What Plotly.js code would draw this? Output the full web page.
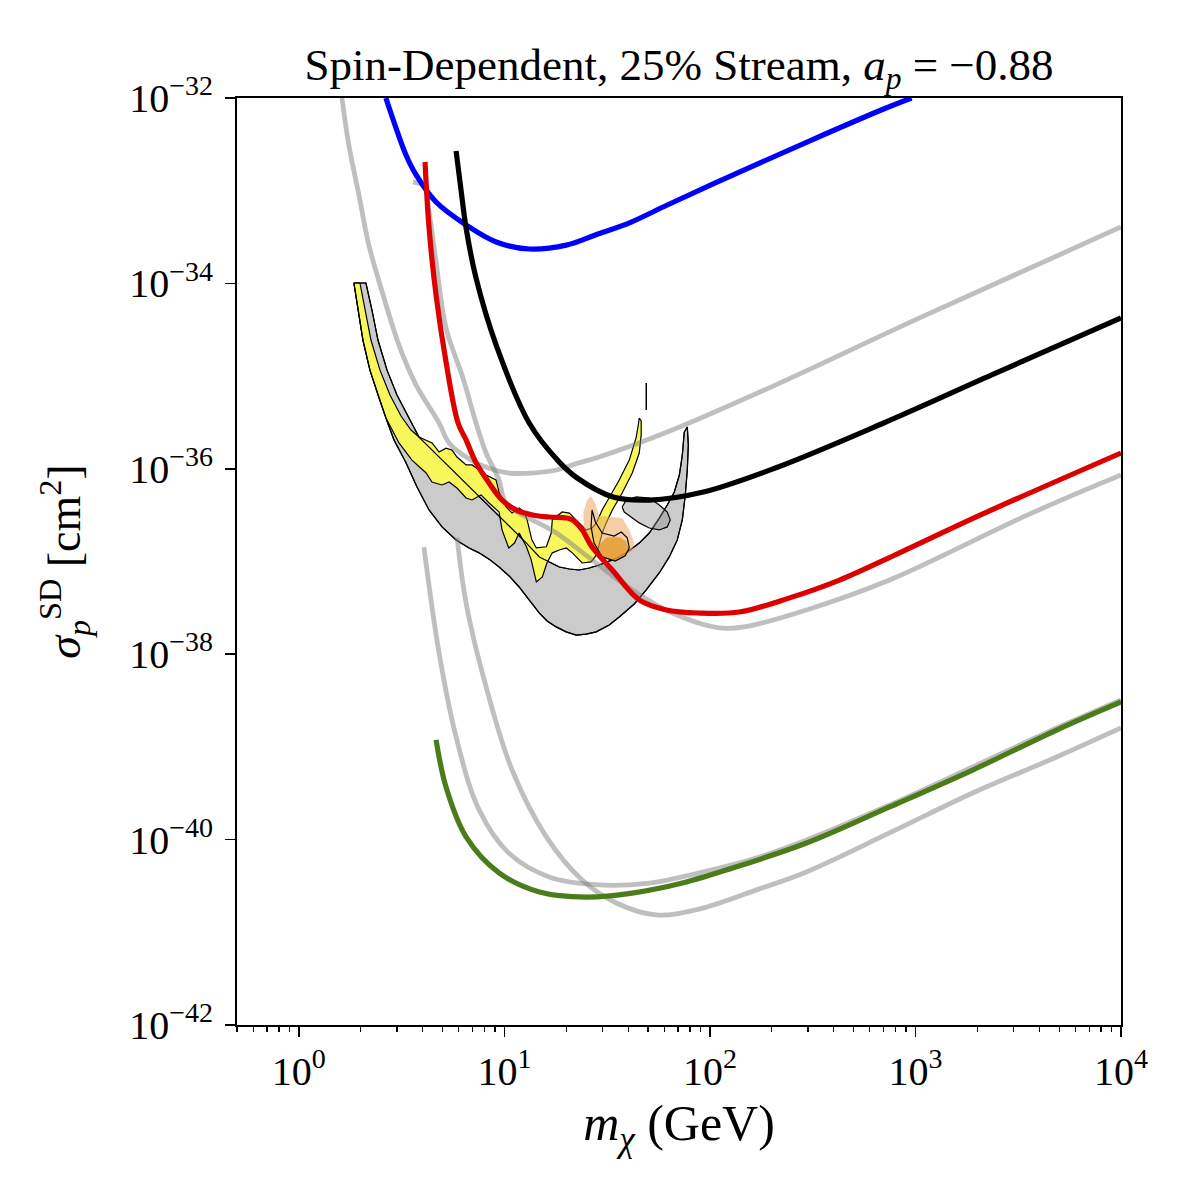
<!DOCTYPE html>
<html>
<head>
<meta charset="utf-8">
<script src="https://cdn.plot.ly/plotly-3.0.1.min.js"></script>
<style>
  html, body { margin: 0; padding: 0; background: #ffffff; }
  #chart { width: 1200px; height: 1200px; }
</style>
</head>
<body>
<div id="chart"></div>
<script>
// ---- Exclusion limits: WIMP mass (GeV) vs spin-dependent proton cross section (cm^2) ----

// Blue limit
const blueMass  = [2.65, 2.97, 3.32, 3.72, 4.65, 6.51, 9.12, 13.2, 20.0, 27.7, 41.4, 62.0, 139, 312, 700, 957];
const blueSigma = [1.0e-32, 4.74e-33, 2.43e-33, 1.48e-33, 7.55e-34, 4.27e-34, 2.80e-34, 2.35e-34, 2.59e-34, 3.33e-34, 4.59e-34, 7.01e-34, 1.59e-33, 3.52e-33, 7.61e-33, 1.0e-32];

// Black limit
const blackMass  = [5.82, 6.15, 6.51, 7.28, 9.12, 13.2, 18.5, 22.6, 33.8, 50.7, 92.9, 208, 700, 2350, 10000];
const blackSigma = [2.68e-33, 1.02e-33, 3.96e-34, 1.14e-34, 2.16e-35, 3.12e-36, 1.18e-36, 7.96e-37, 4.97e-37, 4.60e-37, 5.62e-37, 1.02e-36, 3.12e-36, 1.03e-35, 4.24e-35];

// Red limit
const redMass  = [4.11, 4.30, 4.65, 5.20, 5.95, 6.51, 7.28, 8.42, 9.75, 11.4, 13.7, 16.5, 20.0, 21.4, 23.9, 26.7, 33.5, 45.3, 61.3, 88.7, 139, 244, 427, 837, 2075, 10000];
const redSigma = [2.04e-33, 3.96e-34, 7.5e-35, 1.42e-35, 3.12e-36, 2.05e-36, 1.16e-36, 7.03e-37, 4.60e-37, 3.6e-37, 3.18e-37, 3.02e-37, 2.95e-37, 2.81e-37, 2.19e-37, 1.43e-37, 8.09e-38, 3.85e-38, 3.00e-38, 2.78e-38, 2.85e-38, 4.05e-38, 6.31e-38, 1.24e-37, 3.18e-37, 1.48e-36];

// Green limit
const greenMass  = [4.65, 5.20, 6.51, 9.42, 14.8, 25.0, 41.9, 73.4, 129, 295, 748, 1897, 4864, 10000];
const greenSigma = [1.19e-39, 3.69e-40, 1.07e-40, 4.37e-41, 2.72e-41, 2.40e-41, 2.65e-41, 3.40e-41, 4.94e-41, 9.18e-41, 2.25e-40, 5.63e-40, 1.52e-39, 3.05e-39];

// Grey comparison limits
const greyAMass  = [1.62, 1.75, 1.96, 2.19, 2.57, 3.07, 3.72, 4.81, 5.38, 6.51, 8.15, 10.5, 13.6, 17.9, 23.1, 28.9, 62.0, 208, 1047, 10000];
const greyASigma = [1.0e-32, 3.11e-33, 9.0e-34, 2.59e-34, 7.5e-35, 2.16e-35, 8.0e-36, 3.12e-36, 1.90e-36, 1.34e-36, 1.04e-36, 9.0e-37, 9.0e-37, 9.7e-37, 1.16e-36, 1.34e-36, 2.49e-36, 8.0e-36, 4.24e-35, 4.06e-34];

const greyBMass  = [3.59, 4.06, 4.30, 4.65, 5.20, 6.29, 7.28, 8.15, 9.42, 10.2, 17.9, 26.7, 41.9, 65.6, 111, 147, 295, 748, 3516, 10000];
const greyBSigma = [1.24e-33, 1.12e-33, 5.89e-34, 1.70e-34, 3.30e-35, 9.5e-36, 3.12e-36, 1.48e-36, 7.57e-37, 4.28e-37, 2.03e-37, 1.04e-37, 4.93e-38, 2.78e-38, 1.92e-38, 1.97e-38, 3.00e-38, 6.31e-38, 3.18e-37, 8.57e-37];

const greyCMass  = [4.06, 4.81, 5.82, 7.53, 10.5, 16.5, 28.9, 50.7, 88.7, 174, 295, 748, 1897, 4864, 10000];
const greyCSigma = [1.43e-37, 1.03e-38, 1.28e-39, 2.09e-40, 7.16e-41, 3.95e-41, 3.24e-41, 3.40e-41, 4.37e-41, 6.49e-41, 9.9e-41, 2.36e-40, 6.07e-40, 1.60e-39, 3.21e-39];

const greyDMass  = [5.89, 6.51, 8.15, 10.9, 16.0, 23.9, 35.0, 54.8, 88.7, 174, 295, 748, 1897, 4864, 10000];
const greyDSigma = [1.80e-37, 3.56e-38, 4.43e-39, 5.63e-40, 1.07e-40, 3.66e-41, 2.07e-41, 1.54e-41, 1.78e-41, 2.94e-41, 4.48e-41, 1.18e-40, 3.18e-40, 7.78e-40, 1.60e-39];

// ---- Signal regions (closed contours) ----
const greyRegionMass  = [1.853, 1.939, 2.050, 2.217, 2.453, 2.653, 2.902, 3.320, 3.756, 4.298, 4.972, 5.818, 6.730, 7.528, 8.422, 9.423, 10.54, 11.79, 13.19, 14.76, 16.14, 17.86, 19.97, 22.35, 25.00, 27.97, 32.36, 36.21, 42.83, 48.99, 56.68, 63.42, 69.37, 73.37, 75.87, 77.6, 78.5, 77.6,
                         75.0, 73.4, 71.0, 67.1, 62.0, 56.7, 50.7, 45.3, 39.2, 33.5, 28.9, 25.9, 23.1, 20.7, 18.5, 16.5, 14.8, 12.8, 9.11, 6.51, 4.81, 3.84, 3.434, 3.002, 2.685, 2.426, 2.268, 2.120, 1.853];
const greyRegionSigma = [1.01e-34, 5.16e-35, 2.45e-35, 1.16e-35, 5.81e-36, 3.53e-36, 2.05e-36, 1.16e-36, 6.37e-37, 3.60e-37, 2.36e-37, 1.71e-37, 1.40e-37, 1.24e-37, 1.06e-37, 8.73e-38, 6.98e-38, 5.31e-38, 3.85e-38, 2.79e-38, 2.28e-38, 1.97e-38, 1.74e-38, 1.61e-38, 1.65e-38, 1.74e-38, 2.07e-38, 2.52e-38, 3.48e-38, 4.93e-38, 7.52e-38, 1.12e-37, 1.71e-37, 2.81e-37, 5.22e-37, 9.70e-37, 1.81e-36, 2.82e-36,
                         2.49e-36, 1.41e-36, 8.57e-37, 5.62e-37, 4.07e-37, 2.94e-37, 2.03e-37, 1.58e-37, 1.24e-37, 1.04e-37, 9.17e-38, 8.51e-38, 8.10e-38, 8.30e-38, 8.73e-38, 9.89e-38, 1.12e-37, 1.58e-37, 3.33e-37, 6.86e-37, 1.34e-36, 2.20e-36, 3.53e-36, 6.25e-36, 1.16e-35, 2.45e-35, 5.16e-35, 1.01e-34, 1.01e-34];

const yellowRegionMass  = [1.982, 2.097, 2.242, 2.481, 2.775, 3.140, 3.513, 3.84, 4.444, 4.81, 5.20, 5.56, 5.88, 6.51, 6.96, 7.53, 8.14, 9.11, 9.42, 10.2, 10.9, 11.8, 12.5, 12.9, 13.6, 14.3, 16.0, 16.9, 17.1, 19.1, 20.7, 22.3, 25.0, 26.7,
                           28.0, 29.9, 32.4, 36.2, 40.5, 43.8, 44.8, 45.3, 46.3, 46.3, 45.3, 41.9, 37.4, 33.5, 31.3, 29.9, 28.9, 28.0, 26.4, 23.9, 21.4, 20.0, 18.5, 17.1, 16.1, 15.3, 14.3, 13.5, 12.8, 11.8, 11.2, 10.5, 9.74, 9.42, 8.42, 7.70, 6.96, 6.51, 5.88, 5.38, 4.97, 4.44, 4.16, 3.55, 3.07, 2.806, 2.653, 2.453, 2.217, 2.050, 1.939, 1.853, 1.982];
const yellowRegionSigma = [1.01e-34, 5.16e-35, 2.45e-35, 1.16e-35, 6.25e-36, 3.71e-36, 2.62e-36, 2.20e-36, 1.90e-36, 1.52e-36, 1.67e-36, 1.59e-36, 1.34e-36, 1.10e-36, 1.10e-36, 9.70e-37, 8.57e-37, 7.57e-37, 5.62e-37, 3.87e-37, 3.33e-37, 3.78e-37, 3.42e-37, 2.81e-37, 1.71e-37, 1.40e-37, 1.44e-37, 2.03e-37, 2.81e-37, 3.42e-37, 3.33e-37, 2.81e-37, 2.19e-37, 2.30e-37,
                           2.61e-37, 3.60e-37, 4.97e-37, 7.57e-37, 1.24e-36, 2.20e-36, 2.97e-36, 3.53e-36, 3.28e-36, 2.32e-36, 1.48e-36, 9.02e-37, 5.48e-37, 3.60e-37, 2.61e-37, 2.03e-37, 1.51e-37, 1.17e-37, 9.89e-38, 9.64e-38, 1.24e-37, 1.40e-37, 1.33e-37, 1.24e-37, 9.64e-38, 6.81e-38, 6.01e-38, 1.04e-37, 1.44e-37, 2.03e-37, 1.58e-37, 1.40e-37, 2.19e-37, 3.42e-37, 4.28e-37, 5.22e-37, 4.61e-37, 4.84e-37, 6.21e-37, 7.21e-37, 6.69e-37, 7.21e-37, 9.02e-37, 1.24e-36, 1.90e-36, 2.75e-36, 3.53e-36, 5.81e-36, 1.16e-35, 2.45e-35, 5.16e-35, 1.01e-34, 1.01e-34];

const smallGreyMass  = [37.4, 39.2, 43.8, 50.7, 56.7, 62.0, 64.1, 62.0, 56.7, 50.7, 45.3, 41.4, 38.3, 37.4];
const smallGreySigma = [3.87e-37, 4.61e-37, 4.97e-37, 4.84e-37, 4.07e-37, 3.42e-37, 2.81e-37, 2.36e-37, 2.19e-37, 2.30e-37, 2.61e-37, 3.02e-37, 3.42e-37, 3.87e-37];

const peachMass  = [24.2, 25.3, 26.4, 27.7, 28.9, 33.1, 37.4, 40.5, 42.8, 41.9, 38.3, 33.5, 29.9, 26.4, 24.4, 24.2];
const peachSigma = [3.42e-37, 4.61e-37, 5.09e-37, 4.18e-37, 3.10e-37, 3.02e-37, 2.94e-37, 2.19e-37, 1.58e-37, 1.30e-37, 1.17e-37, 1.04e-37, 1.09e-37, 1.47e-37, 2.19e-37, 3.42e-37];

// darker core of the orange contour, and its outline
const orangeMass  = [28.9, 31.3, 34.2, 37.0, 39.0, 40.3, 39.0, 34.6, 30.3, 28.9, 28.9];
const orangeSigma = [1.51e-37, 1.80e-37, 1.84e-37, 1.80e-37, 1.64e-37, 1.40e-37, 1.15e-37, 1.01e-37, 1.10e-37, 1.30e-37, 1.51e-37];
const orangeEdgeMass  = [26.7, 27.7, 29.9, 34.2, 37.0, 39.6, 40.5, 38.7, 34.6, 29.9, 27.3, 26.4, 26.7];
const orangeEdgeSigma = [3.60e-37, 2.67e-37, 2.03e-37, 1.88e-37, 2.08e-37, 1.80e-37, 1.40e-37, 1.15e-37, 1.01e-37, 1.12e-37, 1.58e-37, 2.36e-37, 3.60e-37];

// short isolated contour segment
const dashMass  = [49.0, 49.0];
const dashSigma = [4.31e-36, 8.43e-36];

// ---- Axis ticks ----
const xTickVals = [1, 10, 100, 1000, 10000];
const xTickText = ['10<sup>0</sup>', '10<sup>1</sup>', '10<sup>2</sup>', '10<sup>3</sup>', '10<sup>4</sup>'];
const yTickVals = [1e-42, 1e-40, 1e-38, 1e-36, 1e-34, 1e-32];
const yTickText = ['10<sup>−42</sup>', '10<sup>−40</sup>', '10<sup>−38</sup>', '10<sup>−36</sup>', '10<sup>−34</sup>', '10<sup>−32</sup>'];

const xMinorVals = [];
[0.1, 1, 10, 100, 1000].forEach(function (dec) {
  for (let k = 2; k <= 9; k++) {
    const v = k * dec;
    if (v >= 0.5 && v < 10000) xMinorVals.push(v);
  }
});

// ---- Styles ----
const GREY_LINE = 'rgba(128,128,128,0.5)';
const LW = 5.2;
const GREY_LW = 4.8;

function curve(x, y, color, width) {
  return { x: x, y: y, type: 'scatter', mode: 'lines', line: { color: color, width: width, shape: 'spline', smoothing: 1 }, hoverinfo: 'skip' };
}
function region(x, y, fill, edge, edgeWidth) {
  return { x: x, y: y, type: 'scatter', mode: 'lines', fill: 'toself', fillcolor: fill, line: { color: edge, width: edgeWidth }, hoverinfo: 'skip' };
}
function outline(x, y, width) {
  return { x: x, y: y, type: 'scatter', mode: 'lines', line: { color: '#000000', width: width }, hoverinfo: 'skip' };
}

const traces = [
  region(greyRegionMass, greyRegionSigma, '#cbcbcb', '#000000', 1.2),
  region(yellowRegionMass, yellowRegionSigma, '#f7f75c', '#000000', 1.2),
  outline(greyRegionMass, greyRegionSigma, 1.2),
  region(smallGreyMass, smallGreySigma, 'rgba(140,140,140,0.4)', '#000000', 1.2),
  region(peachMass, peachSigma, 'rgba(236,165,95,0.55)', 'rgba(0,0,0,0)', 0),
  region(orangeMass, orangeSigma, 'rgba(228,150,35,0.75)', 'rgba(0,0,0,0)', 0),
  outline(orangeEdgeMass, orangeEdgeSigma, 1.2),
  outline(dashMass, dashSigma, 1.5),
  curve(greyAMass, greyASigma, GREY_LINE, GREY_LW),
  curve(greyBMass, greyBSigma, GREY_LINE, GREY_LW),
  curve(greyCMass, greyCSigma, GREY_LINE, GREY_LW),
  curve(greyDMass, greyDSigma, GREY_LINE, GREY_LW),
  curve(blueMass, blueSigma, '#0000ff', LW),
  curve(blackMass, blackSigma, '#000000', LW),
  curve(redMass, redSigma, '#dd0000', LW),
  curve(greenMass, greenSigma, '#4a7d1a', LW)
];

const FONT = 'Liberation Serif, DejaVu Serif, serif';

const layout = {
  width: 1200,
  height: 1200,
  margin: { l: 237, r: 79, t: 98, b: 175 },
  paper_bgcolor: '#ffffff',
  plot_bgcolor: '#ffffff',
  showlegend: false,
  hovermode: false,
  font: { family: FONT, color: '#000000' },
  title: {
    text: 'Spin-Dependent, 25% Stream, <i>a</i><sub><i>p</i></sub> = −0.88',
    font: { family: FONT, size: 45, color: '#000000' },
    xref: 'paper', x: 0.5, xanchor: 'center',
    yref: 'container', y: 1 - 64 / 1200, yanchor: 'middle'
  },
  xaxis: {
    type: 'log',
    range: [Math.log10(0.5), 4],
    showline: true, linewidth: 2, linecolor: '#000000', mirror: true,
    showgrid: false, zeroline: false,
    ticks: 'outside', ticklen: 10, tickwidth: 1.5, tickcolor: '#000000',
    tickmode: 'array', tickvals: xTickVals, ticktext: xTickText,
    tickfont: { family: FONT, size: 40 },
    minor: { tickmode: 'array', tickvals: xMinorVals, ticks: 'outside', ticklen: 5, tickwidth: 1.2, tickcolor: '#000000', showgrid: false },
    title: { text: '<i>m</i><sub><i>χ</i></sub> (GeV)', font: { family: FONT, size: 50 }, standoff: 12 }
  },
  yaxis: {
    type: 'log',
    range: [-42, -32],
    showline: true, linewidth: 2, linecolor: '#000000', mirror: true,
    showgrid: false, zeroline: false,
    ticks: 'outside', ticklen: 10, tickwidth: 1.5, tickcolor: '#000000',
    tickmode: 'array', tickvals: yTickVals, ticktext: yTickText,
    tickfont: { family: FONT, size: 40 },
    ticklabelstandoff: 4,
    title: { text: '<i>σ</i><sub><i>p</i></sub><sup>SD</sup> [cm<sup>2</sup>]', font: { family: FONT, size: 46 }, standoff: 34 }
  }
};

Plotly.newPlot('chart', traces, layout, { staticPlot: true, displayModeBar: false });
</script>
</body>
</html>
